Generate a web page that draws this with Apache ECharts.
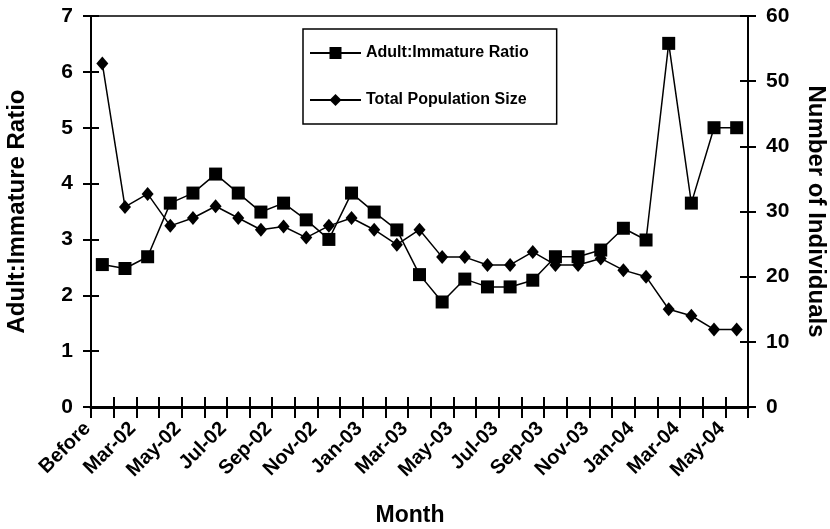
<!DOCTYPE html>
<html>
<head>
<meta charset="utf-8">
<script src="https://cdn.jsdelivr.net/npm/echarts@6/dist/echarts.min.js"></script>
<style>
html,body{margin:0;padding:0;background:#fff;}
#chart{width:830px;height:529px;}
</style>
</head>
<body>
<div id="chart"></div>
<script>
var months = ['Before','Feb-02','Mar-02','Apr-02','May-02','Jun-02','Jul-02','Aug-02','Sep-02','Oct-02','Nov-02','Dec-02',
  'Jan-03','Feb-03','Mar-03','Apr-03','May-03','Jun-03','Jul-03','Aug-03','Sep-03','Oct-03','Nov-03','Dec-03',
  'Jan-04','Feb-04','Mar-04','Apr-04','May-04'];
var ratio = [2.55, 2.48, 2.69, 3.65, 3.83, 4.17, 3.83, 3.49, 3.65, 3.35, 3.0, 3.83, 3.49, 3.17, 2.37, 1.88, 2.29, 2.15, 2.15, 2.27, 2.69, 2.69, 2.81, 3.2, 2.99, 6.51, 3.65, 5.0, 5.0];
var population = [52.7, 30.7, 32.7, 27.8, 29.0, 30.8, 29.0, 27.2, 27.7, 26.0, 27.8, 29.0, 27.2, 24.9, 27.2, 23.0, 23.0, 21.8, 21.8, 23.8, 21.8, 21.8, 22.8, 21.0, 20.0, 15.0, 14.0, 11.9, 11.9];
var seriesNames = ['Adult:Immature Ratio', 'Total Population Size'];
var leftAxisName = 'Adult:Immature Ratio';
var rightAxisName = 'Number of Individuals';
var xAxisName = 'Month';

var FONT = '"Liberation Sans", Arial, sans-serif';
var chart = echarts.init(document.getElementById('chart'), null, {renderer: 'canvas'});

function yAxisBase(pos, max, interval) {
  return {
    type: 'value', position: pos, min: 0, max: max, interval: interval,
    splitLine: {show: false}
  };
}

var yLeft = yAxisBase('left', 7, 1);
Object.assign(yLeft, {
  axisLine: {show: true, lineStyle: {color: '#000', width: 2}},
  axisTick: {show: true, inside: false, length: 8, lineStyle: {color: '#000', width: 2}},
  axisLabel: {show: true, color: '#000', fontSize: 21, fontWeight: 'bold', fontFamily: FONT, margin: 18},
  name: leftAxisName, nameLocation: 'middle', nameGap: 62,
  nameTextStyle: {color: '#000', fontSize: 24, fontWeight: 'bold', fontFamily: FONT}
});
var yRight = yAxisBase('right', 60, 10);
Object.assign(yRight, {
  axisLine: {show: true, lineStyle: {color: '#000', width: 2}},
  axisTick: {show: true, inside: false, length: 8, lineStyle: {color: '#000', width: 2}},
  axisLabel: {show: true, color: '#000', fontSize: 21, fontWeight: 'bold', fontFamily: FONT, margin: 18},
  name: rightAxisName, nameLocation: 'middle', nameGap: 56, nameRotate: -90,
  nameTextStyle: {color: '#000', fontSize: 24, fontWeight: 'bold', fontFamily: FONT}
});
var yLeftIn = yAxisBase('left', 7, 1);
Object.assign(yLeftIn, {
  axisLine: {show: false},
  axisTick: {show: true, inside: true, length: 8, lineStyle: {color: '#000', width: 2}},
  axisLabel: {show: false}
});
var yRightIn = yAxisBase('right', 60, 10);
Object.assign(yRightIn, {
  axisLine: {show: false},
  axisTick: {show: true, inside: true, length: 8, lineStyle: {color: '#000', width: 2}},
  axisLabel: {show: false}
});

var option = {
  animation: false,
  backgroundColor: '#fff',
  textStyle: {fontFamily: FONT},
  title: {
    text: xAxisName, left: 410, top: 504, textAlign: 'center', padding: 0,
    textStyle: {color: '#000', fontSize: 23, fontWeight: 'bold', fontFamily: FONT}
  },
  grid: {left: 91, right: 82, top: 16, bottom: 122, containLabel: false, outerBoundsMode: 'none',
    show: true, borderColor: '#000', borderWidth: 1.5, backgroundColor: 'transparent'},
  legend: {
    orient: 'vertical', left: 303, top: 29,
    padding: [16, 28, 16, 6], itemGap: 31, itemWidth: 51, itemHeight: 15,
    borderColor: '#000', borderWidth: 1.5, backgroundColor: '#fff',
    textStyle: {fontSize: 16, fontWeight: 'bold', color: '#000', fontFamily: FONT},
    data: seriesNames
  },
  xAxis: [
    {
      type: 'category', data: months, boundaryGap: true, position: 'bottom',
      axisLine: {show: true, lineStyle: {color: '#000', width: 3}},
      axisTick: {show: true, interval: 0, inside: false, length: 11, lineStyle: {color: '#000', width: 2}},
      axisLabel: {show: false}
    },
    {
      type: 'value', min: 0, max: months.length, interval: 1, position: 'bottom',
      axisLine: {show: false},
      splitLine: {show: false},
      axisTick: {show: true, inside: true, length: 10, lineStyle: {color: '#000', width: 2}},
      axisLabel: {
        show: true, rotate: 45, color: '#000', fontSize: 20, fontWeight: 'bold', fontFamily: FONT, margin: 15,
        padding: [0, 5, 10, 0],
        formatter: function (v) { var i = Math.round(v); return (i % 2 === 0 && i < months.length) ? months[i] : ''; }
      }
    }
  ],
  yAxis: [yLeft, yRight, yLeftIn, yRightIn],
  series: [
    {
      name: seriesNames[1], type: 'line', xAxisIndex: 0, yAxisIndex: 1, data: population,
      symbol: 'diamond', symbolSize: [12, 14], showAllSymbol: true,
      itemStyle: {color: '#000'}, lineStyle: {color: '#000', width: 1.5}, z: 3
    },
    {
      name: seriesNames[0], type: 'line', xAxisIndex: 0, yAxisIndex: 0, data: ratio,
      symbol: 'rect', symbolSize: 13, showAllSymbol: true,
      itemStyle: {color: '#000'}, lineStyle: {color: '#000', width: 1.5}, z: 4
    }
  ]
};
chart.setOption(option);
</script>
</body>
</html>
